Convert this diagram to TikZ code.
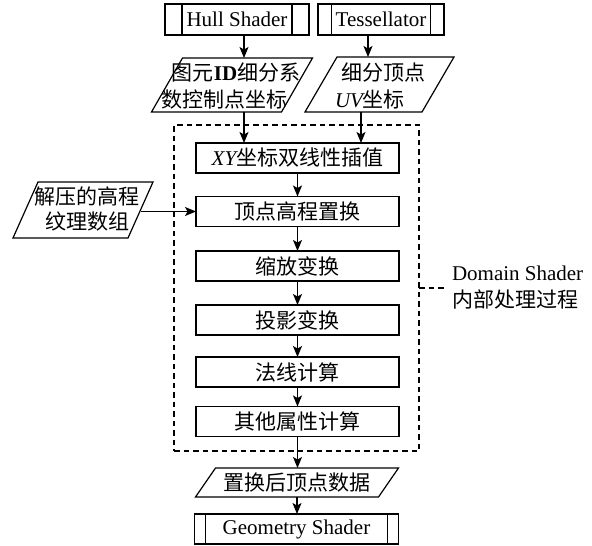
\documentclass[tikz,border=0pt]{standalone}
\usepackage{fontspec}
\setmainfont{Liberation Serif}
\newfontfamily\cjk{Noto Sans CJK SC}
\usetikzlibrary{arrows.meta}
\begin{document}
\begin{tikzpicture}[x=1pt,y=-1pt,
  every node/.style={font=\fontsize{21}{27}\selectfont, inner sep=0pt, outer sep=0pt},
  ln/.style={line width=1.2pt},
  procbox/.style={draw, ln, minimum width=203pt, minimum height=30pt},
  subbox/.style={draw, ln, minimum height=31pt},
  txt/.style={draw=none},
  arr/.style={ln, -{Stealth[length=11pt,width=9pt,inset=2.5pt]}},
  dsh/.style={ln, dash pattern=on 5.5pt off 4pt}]
\useasboundingbox (0,0) rectangle (592,546);

% top sub-process boxes
\node[subbox, minimum width=144pt] (hull) at (237,19.5) {Hull Shader};
\node[subbox, minimum width=126pt] (tess) at (381,19.5) {Tessellator};
\draw[ln] ([xshift=17pt]hull.north west) -- ([xshift=17pt]hull.south west);
\draw[ln] ([xshift=-17pt]hull.north east) -- ([xshift=-17pt]hull.south east);
\draw[ln] ([xshift=13.5pt]tess.north west) -- ([xshift=13.5pt]tess.south west);
\draw[ln] ([xshift=-13.5pt]tess.north east) -- ([xshift=-13.5pt]tess.south east);

% data parallelograms (outline node + text node)
\node[txt, minimum width=130pt, minimum height=54pt] (p1) at (232,85) {};
\node (p1t) at ([yshift=-4pt]p1.center)
  {\begin{tabular}{@{}c@{}}\hspace{8pt}{\cjk 图元}{\bfseries ID}{\cjk 细分系}\hspace{-8pt}\\
   \hspace{-16pt}{\cjk 数控制点坐标}\hspace{16pt}\end{tabular}};
\draw[ln] ([xshift=15.5pt]p1.north west) -- ([xshift=15.5pt]p1.north east)
  -- ([xshift=-15.5pt]p1.south east) -- ([xshift=-15.5pt]p1.south west) -- cycle;

\node[txt, minimum width=117pt, minimum height=55pt] (p2) at (379.5,84.5) {};
\node (p2t) at ([yshift=-4pt]p2.center)
  {\begin{tabular}{@{}c@{}}\hspace{8pt}{\cjk 细分顶点}\hspace{-8pt}\\
   \hspace{-19pt}{\itshape UV}{\cjk 坐标}\hspace{19pt}\end{tabular}};
\draw[ln] ([xshift=16pt]p2.north west) -- ([xshift=16pt]p2.north east)
  -- ([xshift=-16pt]p2.south east) -- ([xshift=-16pt]p2.south west) -- cycle;

\node[txt, minimum width=115pt, minimum height=56pt] (lp) at (83,210) {};
\node (lpt) at ([xshift=4pt,yshift=-2pt]lp.center)
  {\fontsize{21}{24}\selectfont\begin{tabular}{@{}c@{}}{\cjk 解压的高程}\\{\cjk 纹理数组}\end{tabular}};
\draw[ln] ([xshift=12.5pt]lp.north west) -- ([xshift=12.5pt]lp.north east)
  -- ([xshift=-12.5pt]lp.south east) -- ([xshift=-12.5pt]lp.south west) -- cycle;

% domain shader frame
\node[draw, dsh, minimum width=245pt, minimum height=326pt] (ds) at (296.5,288) {};
\node[anchor=west, align=left] (dl) at (452,288) {Domain Shader\\{\cjk 内部处理过程}};
\draw[dsh] (ds.east) -- ([xshift=-5pt]dl.west);

% process boxes
\node[procbox] (b1) at (297.5,158) {{\itshape XY}{\cjk 坐标双线性插值}};
\node[procbox] (b2) at (297.5,211.5) {{\cjk 顶点高程置换}};
\node[procbox] (b3) at (297.5,266) {{\cjk 缩放变换}};
\node[procbox] (b4) at (297.5,320) {{\cjk 投影变换}};
\node[procbox] (b5) at (297.5,372) {{\cjk 法线计算}};
\node[procbox] (b6) at (297.5,421.5) {{\cjk 其他属性计算}};

% bottom
\node[txt, minimum width=183pt, minimum height=29pt] (bp) at (297,482.5) {{\cjk 置换后顶点数据}};
\draw[ln] ([xshift=10pt]bp.north west) -- ([xshift=10pt]bp.north east)
  -- ([xshift=-10pt]bp.south east) -- ([xshift=-10pt]bp.south west) -- cycle;
\node[subbox, minimum width=204pt, minimum height=30pt] (gs) at (296.5,529) {Geometry Shader};
\draw[ln] ([xshift=11pt]gs.north west) -- ([xshift=11pt]gs.south west);
\draw[ln] ([xshift=-11pt]gs.north east) -- ([xshift=-11pt]gs.south east);

% connectors
\draw[arr] ([xshift=7pt]hull.south) -- ([xshift=7pt]hull.south |- p1.north);
\draw[arr] ([xshift=-13pt]tess.south) -- ([xshift=-13pt]tess.south |- p2.north);
\draw[arr] ([xshift=12pt]p1.south) -- ([xshift=12pt]p1.south |- b1.north);
\draw[arr] ([xshift=-18.5pt]p2.south) -- ([xshift=-18.5pt]p2.south |- b1.north);
\draw[arr] (lp.east |- b2.west) -- (b2.west);
\draw[arr] (b1) -- (b2);
\draw[arr] (b2) -- (b3);
\draw[arr] (b3) -- (b4);
\draw[arr] (b4) -- (b5);
\draw[arr] (b5) -- (b6);
\draw[arr] (b6.south) -- (b6.south |- bp.north);
\draw[arr] (bp.south) -- (bp.south |- gs.north);
\end{tikzpicture}
\end{document}
